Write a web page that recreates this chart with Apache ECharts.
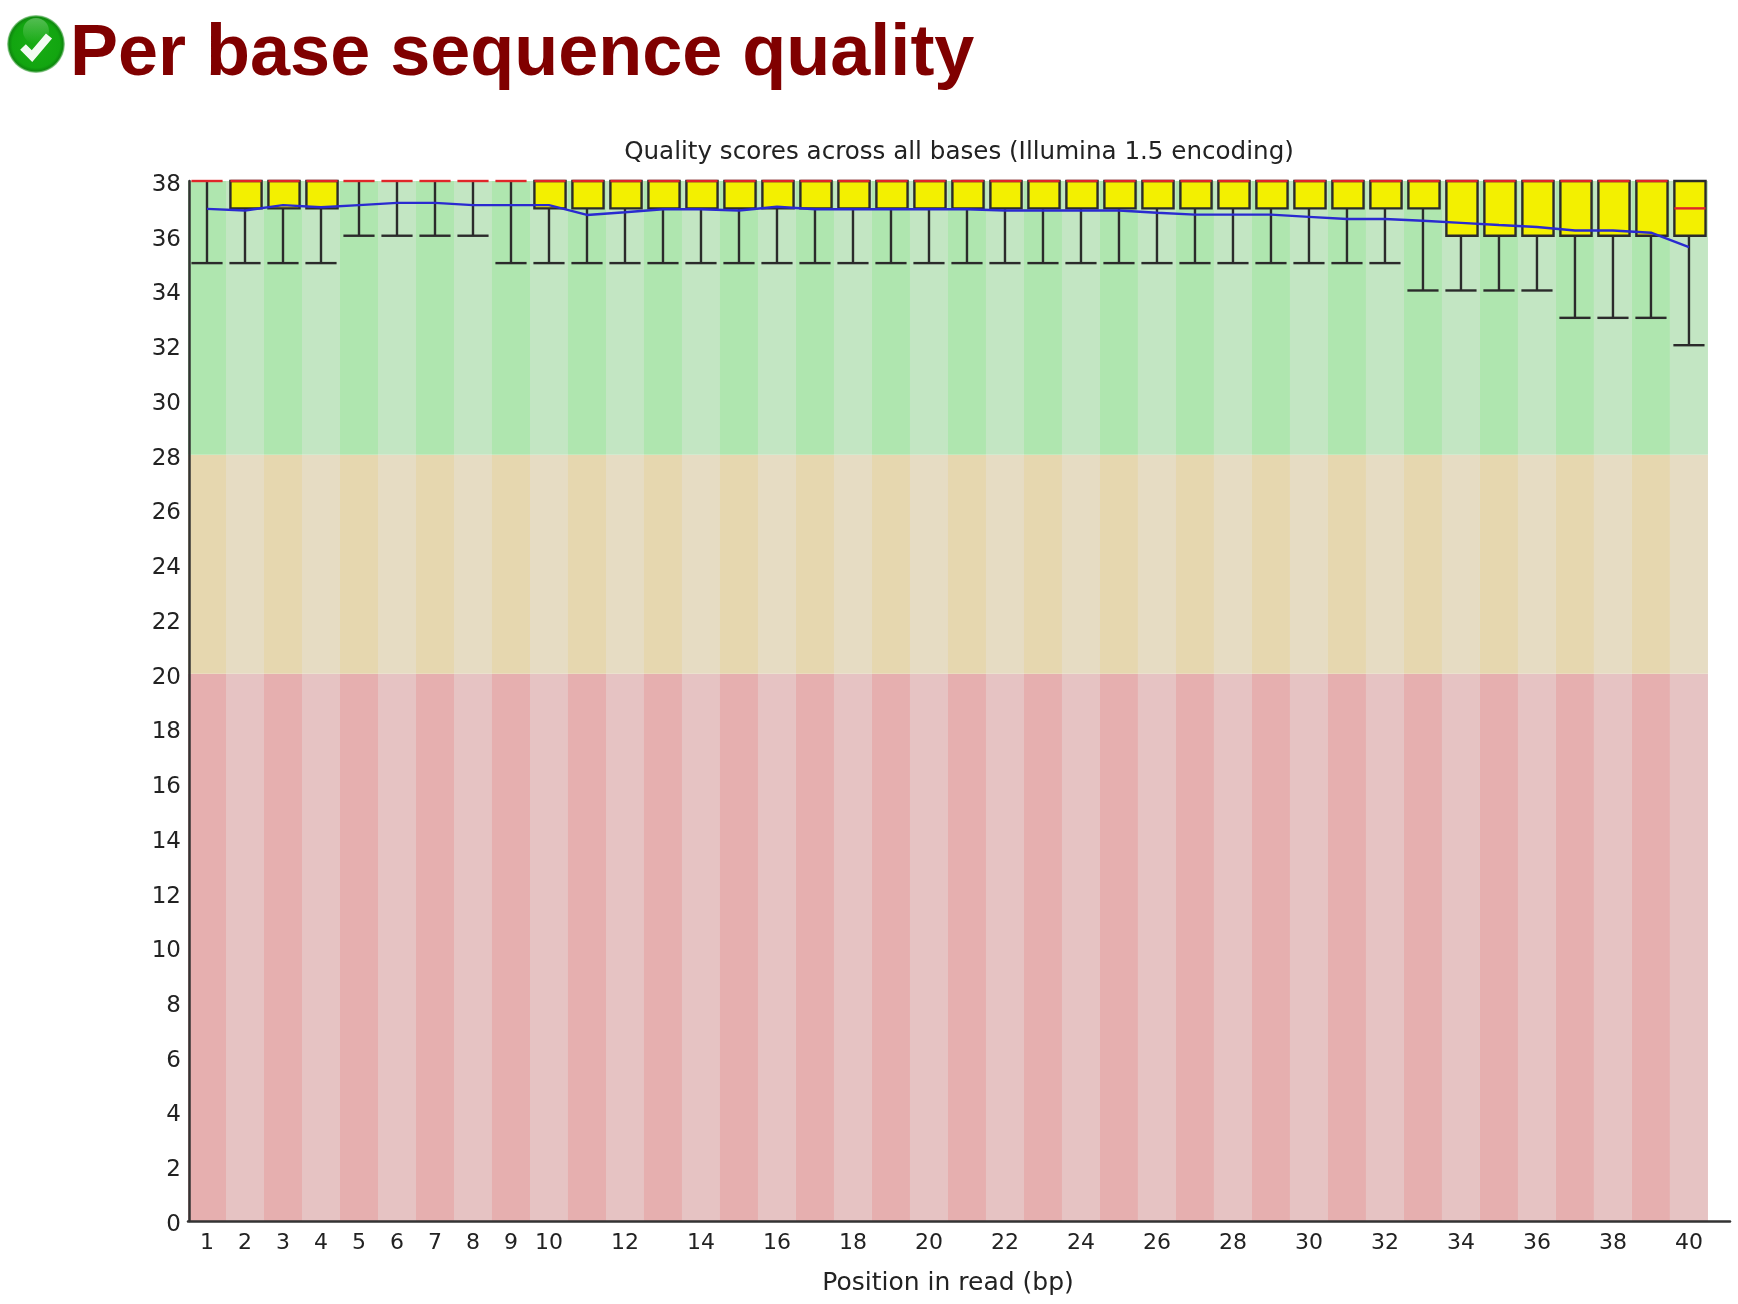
<!DOCTYPE html>
<html>
<head>
<meta charset="utf-8">
<style>html,body{margin:0;padding:0;background:#fff}#c{width:1738px;height:1304px;filter:blur(0.6px)}</style>
<script src="https://cdn.jsdelivr.net/npm/echarts@6/dist/echarts.min.js"></script>
</head>
<body>
<div id="c"></div>
<script>
const pageTitle = 'Per base sequence quality';
const chartTitle = 'Quality scores across all bases (Illumina 1.5 encoding)';
const xName = 'Position in read (bp)';
const positions = [1,2,3,4,5,6,7,8,9,10,11,12,13,14,15,16,17,18,19,20,21,22,23,24,25,26,27,28,29,30,31,32,33,34,35,36,37,38,39,40];
const upper  = [38,38,38,38,38,38,38,38,38,38,38,38,38,38,38,38,38,38,38,38,38,38,38,38,38,38,38,38,38,38,38,38,38,38,38,38,38,38,38,38];
const q3     = [38,38,38,38,38,38,38,38,38,38,38,38,38,38,38,38,38,38,38,38,38,38,38,38,38,38,38,38,38,38,38,38,38,38,38,38,38,38,38,38];
const median = [38,38,38,38,38,38,38,38,38,38,38,38,38,38,38,38,38,38,38,38,38,38,38,38,38,38,38,38,38,38,38,38,38,38,38,38,38,38,38,37];
const q1     = [38,37,37,37,38,38,38,38,38,37,37,37,37,37,37,37,37,37,37,37,37,37,37,37,37,37,37,37,37,37,37,37,37,36,36,36,36,36,36,36];
const lower  = [35,35,35,35,36,36,36,36,35,35,35,35,35,35,35,35,35,35,35,35,35,35,35,35,35,35,35,35,35,35,35,35,34,34,34,34,33,33,33,32];
const means  = [36.98,36.92,37.12,37.04,37.12,37.2,37.2,37.12,37.12,37.12,36.76,36.86,36.97,36.97,36.92,37.06,36.97,36.97,36.97,36.97,36.97,36.92,36.92,36.92,36.92,36.84,36.77,36.77,36.77,36.69,36.61,36.61,36.55,36.47,36.39,36.32,36.19,36.19,36.11,35.58];
const zoneBounds = [0,20,28,38];
const xTickLabels = [1,2,3,4,5,6,7,8,9,10,12,14,16,18,20,22,24,26,28,30,32,34,36,38,40];

const zoneColors = [['#E6AFAF','#E6C3C3'],['#E6D7AF','#E6DCC3'],['#AFE6AF','#C3E6C3']];
const BOX = 0.41;
const chart = echarts.init(document.getElementById('c'), null, {renderer:'canvas'});

const bandData = [];
positions.forEach(p => { for (let z = 0; z < zoneColors.length; z++) bandData.push([p, zoneBounds[z], zoneBounds[z+1], z]); });
const boxData = positions.map((p,i) => [p, lower[i], q1[i], median[i], q3[i], upper[i]]);

const labelFont = 'DejaVu Sans';
chart.setOption({
  animation:false,
  backgroundColor:'#fff',
  title:[
    {text:pageTitle,left:65,top:14,textStyle:{fontFamily:'Liberation Sans',fontWeight:'bold',fontSize:72,color:'#800000'}},
    {text:chartTitle,left:954,top:135,textAlign:'center',textStyle:{fontFamily:labelFont,fontWeight:'normal',fontSize:24.6,color:'#222'}}
  ],
  grid:{left:188,right:8,top:181,bottom:83,containLabel:false},
  xAxis:{type:'value',min:0.5,max:41.08,z:5,
    axisLine:{show:true,onZero:false,lineStyle:{color:'#333',width:2.5}},
    axisTick:{show:false},splitLine:{show:false},
    axisLabel:{customValues:xTickLabels,formatter:v=>String(v),fontFamily:labelFont,fontSize:22,color:'#222',margin:11},
    name:xName,nameLocation:'middle',nameGap:50,
    nameTextStyle:{fontFamily:labelFont,fontSize:25,color:'#222',padding:[0,22,0,0]}
  },
  yAxis:{type:'value',min:0,max:38,interval:2,z:5,offset:-1,
    axisLine:{show:true,onZero:false,lineStyle:{color:'#333',width:2.5}},
    axisTick:{show:false},splitLine:{show:false},
    axisLabel:{fontFamily:labelFont,fontSize:23,color:'#222',margin:8,verticalAlign:'top',lineHeight:8}
  },
  series:[
    {type:'custom',name:'bands',silent:true,clip:false,z:1,
     encode:{x:0,y:[1,2]},data:bandData,
     renderItem:(params,api)=>{
       const p=api.value(0),a=api.coord([p-0.5,api.value(1)]),b=api.coord([p+0.5,api.value(2)]);
       return {type:'rect',shape:{x:a[0],y:b[1],width:b[0]-a[0],height:a[1]-b[1]},
         style:{fill:zoneColors[api.value(3)][p%2?0:1]}};
     }},
    {type:'custom',name:'boxes',silent:true,clip:false,z:2,
     encode:{x:0,y:[1,2,3,4,5]},data:boxData,
     renderItem:(params,api)=>{
       const p=api.value(0),L=api.value(1),Q1=api.value(2),M=api.value(3),Q3=api.value(4),U=api.value(5);
       const xl=api.coord([p-BOX,0])[0]+1,xr=api.coord([p+BOX,0])[0]+1,xc=api.coord([p,0])[0];
       const y=v=>api.coord([p,v])[1];
       const ln={stroke:'#2b2b2b',lineWidth:2.4,fill:null};
       const ch=[];
       ch.push({type:'line',shape:{x1:xc,y1:y(Q1),x2:xc,y2:y(L)},style:ln});
       ch.push({type:'line',shape:{x1:xl-1,y1:y(L),x2:xr-1,y2:y(L)},style:ln});
       if(U>Q3) ch.push({type:'line',shape:{x1:xc,y1:y(Q3),x2:xc,y2:y(U)},style:ln});
       if(Q3>Q1) ch.push({type:'rect',shape:{x:xl,y:y(Q3),width:xr-xl,height:y(Q1)-y(Q3)},style:{fill:'#F3F000',stroke:'#2b2b2b',lineWidth:2.4}});
       ch.push({type:'line',shape:{x1:xl-(Q3>Q1?0:1),y1:y(M),x2:xr-(Q3>Q1?0:1),y2:y(M)},style:{stroke:'#E0262A',lineWidth:2.4,fill:null}});
       return {type:'group',children:ch};
     }},
    {type:'line',name:'mean',data:positions.map((p,i)=>[p,means[i]]),showSymbol:false,symbol:'none',smooth:false,clip:false,z:3,
     lineStyle:{color:'#2A2AD0',width:2.4}}
  ],
  graphic:[
    {type:'group',left:7,top:15,silent:true,children:[
      {type:'circle',shape:{cx:29,cy:29,r:29},style:{fill:new echarts.graphic.RadialGradient(0.5,0.5,0.5,[
        {offset:0,color:'#18AC14'},{offset:0.82,color:'#12A510'},{offset:0.93,color:'#0E8A0E'},{offset:1,color:'#B8DDB8'}])}},
      {type:'circle',shape:{cx:29,cy:16,r:13},style:{fill:new echarts.graphic.LinearGradient(0,0,0,1,[
        {offset:0,color:'rgba(255,255,255,0.28)'},{offset:1,color:'rgba(255,255,255,0)'}])}},
      {type:'polyline',shape:{points:[[16,32],[25,41],[42,21]]},style:{stroke:'#F2FBF2',lineWidth:8,fill:null,lineJoin:'miter'}}
    ]}
  ]
});
</script>
</body>
</html>
